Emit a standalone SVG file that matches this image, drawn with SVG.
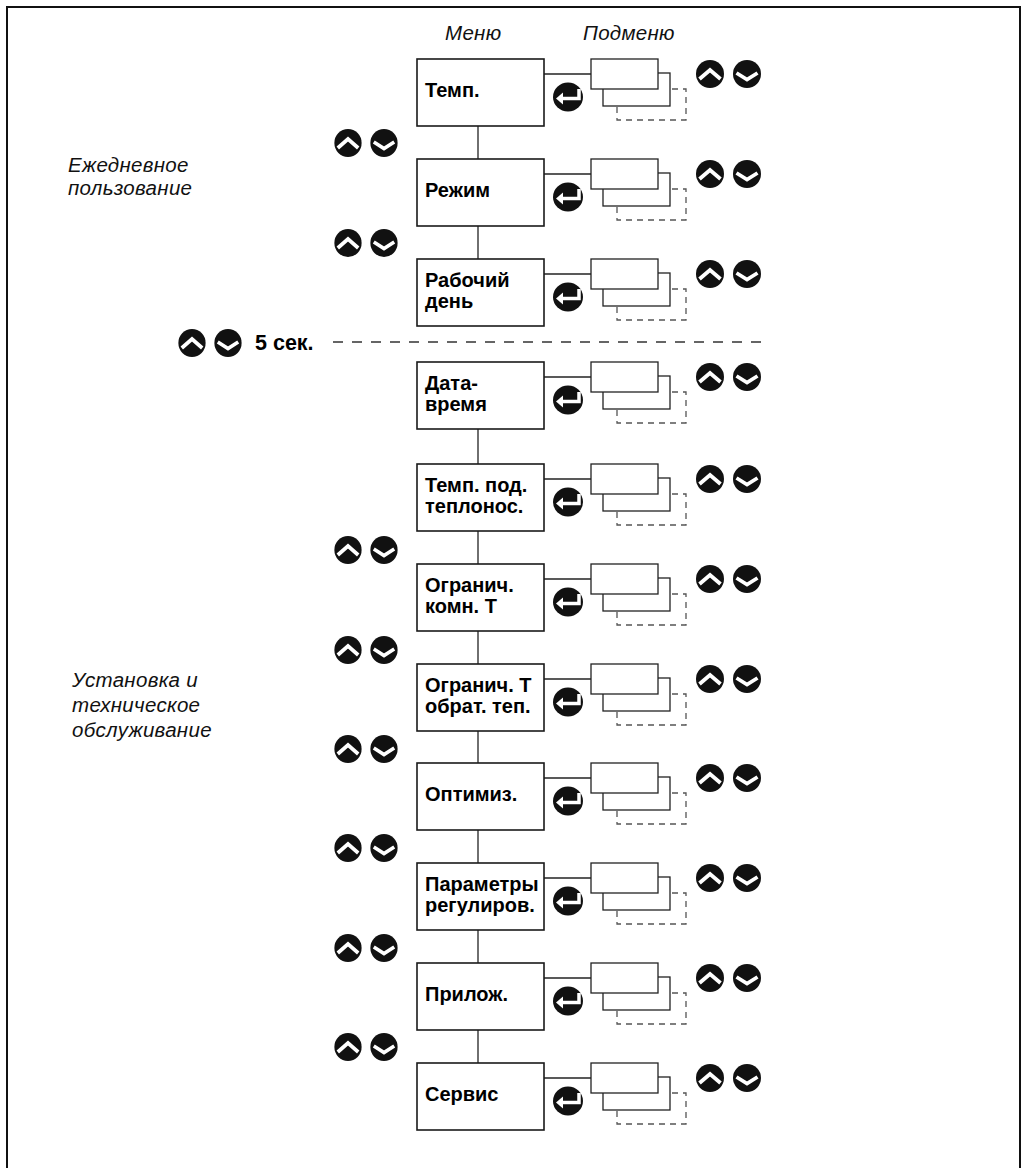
<svg xmlns="http://www.w3.org/2000/svg" xmlns:xlink="http://www.w3.org/1999/xlink" width="1028" height="1168" viewBox="0 0 1028 1168">
<style>
.box{fill:#fff;stroke:#1a1a1a;stroke-width:1.6}
.sub{fill:#fff;stroke:#222;stroke-width:1.3}
.dash{fill:none;stroke:#555;stroke-width:1.3;stroke-dasharray:6 5}
.con{stroke:#222;stroke-width:1.3;fill:none}
.sep{stroke:#333;stroke-width:1.6;stroke-dasharray:10 9;fill:none}
.lbl{font-family:"Liberation Sans",Arial,sans-serif;font-weight:bold;font-size:20px;fill:#000}
.big{font-size:21.5px}
.it{font-family:"Liberation Sans",Arial,sans-serif;font-style:italic;font-size:20.5px;letter-spacing:0.3px;fill:#111}
.btn{fill:#111}
.chev{fill:none;stroke:#fff;stroke-width:3.8}
</style>
<defs>
<g id="ud">
<circle class="btn" cx="0" cy="0" r="14"/>
<path class="chev" d="M-10.5,5 L0,-4 L10.5,5"/>
<circle class="btn" cx="37" cy="0" r="14"/>
<path class="chev" d="M26.5,-1 L37,5.5 L47.5,-1"/>
</g>
<g id="enter">
<ellipse class="btn" cx="0" cy="0" rx="15" ry="14.5"/>
<path d="M11,-8 V1.5 H-6" fill="none" stroke="#fff" stroke-width="3.5"/>
<polygon points="-12,1.5 -5,-4.5 -5,7.5" fill="#fff"/>
</g>
<g id="stack">
<rect class="dash" x="26" y="30" width="69" height="31"/>
<rect class="sub" x="12" y="14" width="67" height="33"/>
<rect class="sub" x="0" y="0" width="67" height="30"/>
</g>
</defs>
<rect x="0" y="0" width="1028" height="1168" fill="#fff"/>
<rect x="7" y="7" width="1013" height="1180" fill="none" stroke="#111" stroke-width="2"/>

<text class="it" x="445" y="40">Меню</text>
<text class="it" x="583" y="40">Подменю</text>
<text class="it" x="68" y="172">Ежедневное</text>
<text class="it" x="68" y="195">пользование</text>
<text class="it" x="72" y="687">Установка и</text>
<text class="it" x="72" y="712">техническое</text>
<text class="it" x="72" y="737">обслуживание</text>

<g id="connectors">
<line class="con" x1="478" y1="126" x2="478" y2="159"/>
<line class="con" x1="478" y1="226" x2="478" y2="259"/>
<line class="con" x1="478" y1="429" x2="478" y2="464"/>
<line class="con" x1="478" y1="531" x2="478" y2="564"/>
<line class="con" x1="478" y1="631" x2="478" y2="664"/>
<line class="con" x1="478" y1="731" x2="478" y2="763"/>
<line class="con" x1="478" y1="830" x2="478" y2="863"/>
<line class="con" x1="478" y1="930" x2="478" y2="963"/>
<line class="con" x1="478" y1="1030" x2="478" y2="1063"/>
<line class="con" x1="544" y1="74" x2="591" y2="74"/>
<line class="con" x1="544" y1="174" x2="591" y2="174"/>
<line class="con" x1="544" y1="274" x2="591" y2="274"/>
<line class="con" x1="544" y1="377" x2="591" y2="377"/>
<line class="con" x1="544" y1="479" x2="591" y2="479"/>
<line class="con" x1="544" y1="579" x2="591" y2="579"/>
<line class="con" x1="544" y1="679" x2="591" y2="679"/>
<line class="con" x1="544" y1="778" x2="591" y2="778"/>
<line class="con" x1="544" y1="878" x2="591" y2="878"/>
<line class="con" x1="544" y1="978" x2="591" y2="978"/>
<line class="con" x1="544" y1="1078" x2="591" y2="1078"/>
</g>

<g id="separator">
<use xlink:href="#ud" transform="translate(192,343) scale(0.973,1)"/>
<text class="lbl big" x="255" y="350">5 сек.</text>
<line class="sep" x1="333" y1="342" x2="765" y2="342"/>
</g>

<g id="nav-left">
<use xlink:href="#ud" transform="translate(348,143) scale(0.973,1)"/>
<use xlink:href="#ud" transform="translate(348,243) scale(0.973,1)"/>
<use xlink:href="#ud" transform="translate(348,550) scale(0.973,1)"/>
<use xlink:href="#ud" transform="translate(348,650) scale(0.973,1)"/>
<use xlink:href="#ud" transform="translate(348,749) scale(0.973,1)"/>
<use xlink:href="#ud" transform="translate(348,848) scale(0.973,1)"/>
<use xlink:href="#ud" transform="translate(348,948) scale(0.973,1)"/>
<use xlink:href="#ud" transform="translate(348,1047) scale(0.973,1)"/>
</g>

<g id="node-temp">
<rect class="box" x="417" y="59" width="127" height="67"/>
<text class="lbl" x="425" y="97">Темп.</text>
<use xlink:href="#enter" x="568" y="97"/>
<use xlink:href="#stack" x="591" y="59"/>
<use xlink:href="#ud" x="710" y="74"/>
</g>
<g id="node-rezhim">
<rect class="box" x="417" y="159" width="127" height="67"/>
<text class="lbl" x="425" y="197">Режим</text>
<use xlink:href="#enter" x="568" y="197"/>
<use xlink:href="#stack" x="591" y="159"/>
<use xlink:href="#ud" x="710" y="174"/>
</g>
<g id="node-rabochiy">
<rect class="box" x="417" y="259" width="127" height="67"/>
<text class="lbl" x="425" y="287">Рабочий</text>
<text class="lbl" x="425" y="308">день</text>
<use xlink:href="#enter" x="568" y="297"/>
<use xlink:href="#stack" x="591" y="259"/>
<use xlink:href="#ud" x="710" y="274"/>
</g>
<g id="node-data">
<rect class="box" x="417" y="362" width="127" height="67"/>
<text class="lbl" x="425" y="390">Дата-</text>
<text class="lbl" x="425" y="411">время</text>
<use xlink:href="#enter" x="568" y="400"/>
<use xlink:href="#stack" x="591" y="362"/>
<use xlink:href="#ud" x="710" y="377"/>
</g>
<g id="node-temp-pod">
<rect class="box" x="417" y="464" width="127" height="67"/>
<text class="lbl" x="425" y="492">Темп. под.</text>
<text class="lbl" x="425" y="513">теплонос.</text>
<use xlink:href="#enter" x="568" y="502"/>
<use xlink:href="#stack" x="591" y="464"/>
<use xlink:href="#ud" x="710" y="479"/>
</g>
<g id="node-ogr-komn">
<rect class="box" x="417" y="564" width="127" height="67"/>
<text class="lbl" x="425" y="592">Огранич.</text>
<text class="lbl" x="425" y="613">комн. Т</text>
<use xlink:href="#enter" x="568" y="602"/>
<use xlink:href="#stack" x="591" y="564"/>
<use xlink:href="#ud" x="710" y="579"/>
</g>
<g id="node-ogr-obr">
<rect class="box" x="417" y="664" width="127" height="67"/>
<text class="lbl" x="425" y="692">Огранич. Т</text>
<text class="lbl" x="425" y="713">обрат. теп.</text>
<use xlink:href="#enter" x="568" y="702"/>
<use xlink:href="#stack" x="591" y="664"/>
<use xlink:href="#ud" x="710" y="679"/>
</g>
<g id="node-optim">
<rect class="box" x="417" y="763" width="127" height="67"/>
<text class="lbl" x="425" y="801">Оптимиз.</text>
<use xlink:href="#enter" x="568" y="801"/>
<use xlink:href="#stack" x="591" y="763"/>
<use xlink:href="#ud" x="710" y="778"/>
</g>
<g id="node-param">
<rect class="box" x="417" y="863" width="127" height="67"/>
<text class="lbl" x="425" y="891">Параметры</text>
<text class="lbl" x="425" y="912">регулиров.</text>
<use xlink:href="#enter" x="568" y="901"/>
<use xlink:href="#stack" x="591" y="863"/>
<use xlink:href="#ud" x="710" y="878"/>
</g>
<g id="node-prilozh">
<rect class="box" x="417" y="963" width="127" height="67"/>
<text class="lbl" x="425" y="1001">Прилож.</text>
<use xlink:href="#enter" x="568" y="1001"/>
<use xlink:href="#stack" x="591" y="963"/>
<use xlink:href="#ud" x="710" y="978"/>
</g>
<g id="node-servis">
<rect class="box" x="417" y="1063" width="127" height="67"/>
<text class="lbl" x="425" y="1101">Сервис</text>
<use xlink:href="#enter" x="568" y="1101"/>
<use xlink:href="#stack" x="591" y="1063"/>
<use xlink:href="#ud" x="710" y="1078"/>
</g>
</svg>
